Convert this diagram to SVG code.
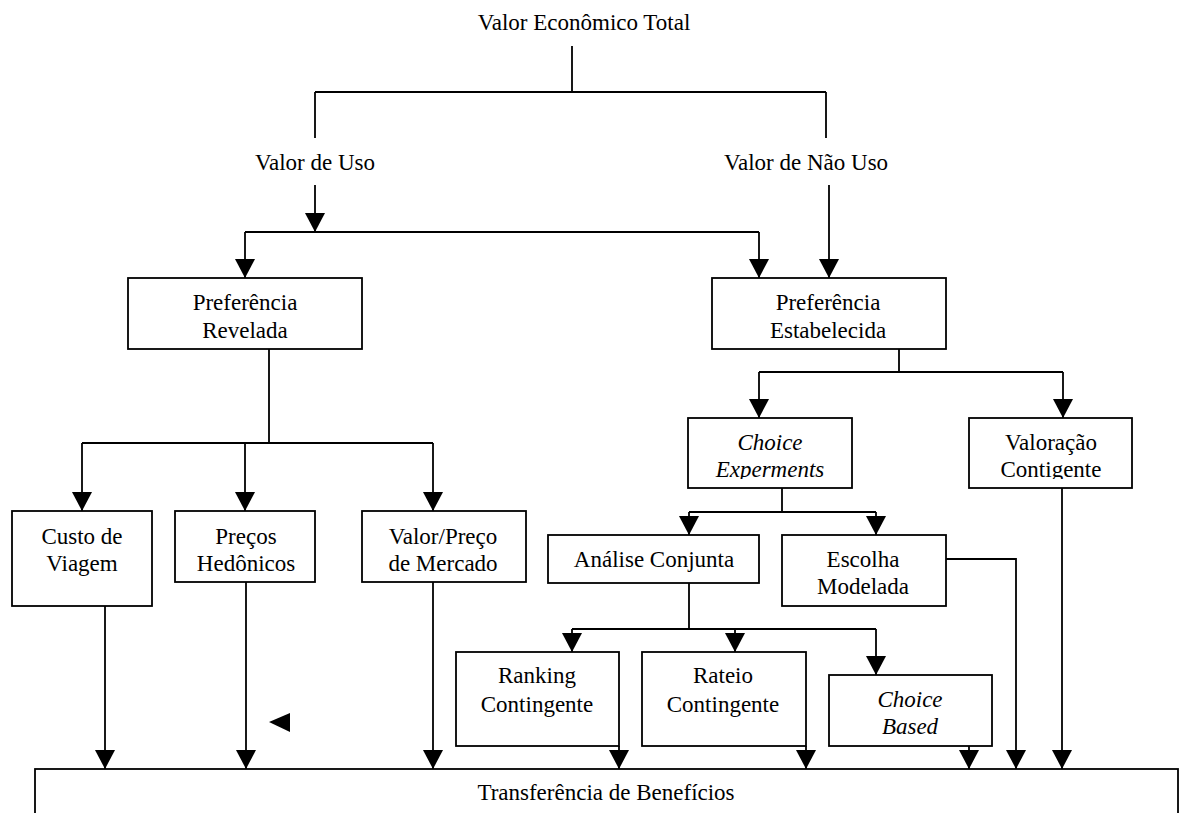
<svg xmlns="http://www.w3.org/2000/svg" width="1179" height="813" viewBox="0 0 1179 813">
<style>
text{font-family:"Liberation Serif","Times New Roman",serif;font-size:23px;fill:#000;text-anchor:middle}
.it{font-style:italic}
.box{fill:#fff;stroke:#000;stroke-width:1.8}
.ln{fill:none;stroke:#000;stroke-width:1.8}
</style>
<defs>
<marker id="ah" viewBox="0 -10 19 20" refX="19" refY="0" markerWidth="19" markerHeight="20" markerUnits="userSpaceOnUse" orient="auto">
<path d="M0,-10 L19,0 L0,10 z" fill="#000"/>
</marker>
<clipPath id="clipCE"><rect x="688" y="418" width="164" height="61"/></clipPath>
<clipPath id="clipVC"><rect x="969" y="418" width="163" height="61"/></clipPath>
</defs>

<g id="connectors">
<path class="ln" d="M572,46 V92 M315,92 H826 M315,92 V138 M826,92 V138"/>
<path class="ln" d="M315,185 V232" marker-end="url(#ah)"/>
<path class="ln" d="M245,232 H759"/>
<path class="ln" d="M245,232 V278" marker-end="url(#ah)"/>
<path class="ln" d="M759,232 V278" marker-end="url(#ah)"/>
<path class="ln" d="M829,185 V278" marker-end="url(#ah)"/>
<path class="ln" d="M269,349 V443 M82,443 H433"/>
<path class="ln" d="M82,443 V511" marker-end="url(#ah)"/>
<path class="ln" d="M245,443 V511" marker-end="url(#ah)"/>
<path class="ln" d="M433,443 V511" marker-end="url(#ah)"/>
<path class="ln" d="M899,349 V372 M759,372 H1063"/>
<path class="ln" d="M759,372 V418" marker-end="url(#ah)"/>
<path class="ln" d="M1063,372 V418" marker-end="url(#ah)"/>
<path class="ln" d="M782,488 V512 M689,512 H876"/>
<path class="ln" d="M689,512 V535" marker-end="url(#ah)"/>
<path class="ln" d="M876,512 V535" marker-end="url(#ah)"/>
<path class="ln" d="M689,583 V629 M572,629 H876"/>
<path class="ln" d="M572,629 V652" marker-end="url(#ah)"/>
<path class="ln" d="M735,629 V652" marker-end="url(#ah)"/>
<path class="ln" d="M876,629 V675" marker-end="url(#ah)"/>
<path class="ln" d="M105,606 V769" marker-end="url(#ah)"/>
<path class="ln" d="M246,582 V769" marker-end="url(#ah)"/>
<path class="ln" d="M433,582 V769" marker-end="url(#ah)"/>
<path class="ln" d="M619,746 V769" marker-end="url(#ah)"/>
<path class="ln" d="M806,746 V769" marker-end="url(#ah)"/>
<path class="ln" d="M969,746 V769" marker-end="url(#ah)"/>
<path class="ln" d="M946,559 H1016 V769" marker-end="url(#ah)"/>
<path class="ln" d="M1062,488 V769" marker-end="url(#ah)"/>
<path d="M269,722 L290,713 L290,732 z" fill="#000"/>
</g>

<g id="valor-economico-total"><text x="584" y="30">Valor Econômico Total</text></g>
<g id="valor-de-uso"><text x="315" y="170">Valor de Uso</text></g>
<g id="valor-de-nao-uso"><text x="806" y="170">Valor de Não Uso</text></g>

<g id="preferencia-revelada">
<rect class="box" x="128" y="278" width="234" height="71"/>
<text x="245" y="310">Preferência</text>
<text x="245" y="338">Revelada</text>
</g>
<g id="preferencia-estabelecida">
<rect class="box" x="712" y="278" width="234" height="71"/>
<text x="828" y="310">Preferência</text>
<text x="828" y="338">Estabelecida</text>
</g>
<g id="custo-de-viagem">
<rect class="box" x="12" y="511" width="140" height="95"/>
<text x="82" y="544">Custo de</text>
<text x="82" y="571">Viagem</text>
</g>
<g id="precos-hedonicos">
<rect class="box" x="175" y="511" width="140" height="71"/>
<text x="246" y="544">Preços</text>
<text x="246" y="571">Hedônicos</text>
</g>
<g id="valor-preco-mercado">
<rect class="box" x="362" y="511" width="164" height="71"/>
<text x="443" y="544">Valor/Preço</text>
<text x="443" y="571">de Mercado</text>
</g>
<g id="choice-experiments">
<rect class="box" x="688" y="418" width="164" height="70"/>
<g clip-path="url(#clipCE)">
<text class="it" x="770" y="450">Choice</text>
<text class="it" x="770" y="477">Experments</text>
</g>
</g>
<g id="valoracao-contigente">
<rect class="box" x="969" y="418" width="163" height="70"/>
<g clip-path="url(#clipVC)">
<text x="1051" y="450">Valoração</text>
<text x="1051" y="477">Contigente</text>
</g>
</g>
<g id="analise-conjunta">
<rect class="box" x="548" y="535" width="211" height="48"/>
<text x="654" y="567">Análise Conjunta</text>
</g>
<g id="escolha-modelada">
<rect class="box" x="782" y="535" width="164" height="71"/>
<text x="863" y="567">Escolha</text>
<text x="863" y="594">Modelada</text>
</g>
<g id="ranking-contingente">
<rect class="box" x="456" y="652" width="163" height="94"/>
<text x="537" y="683">Ranking</text>
<text x="537" y="712">Contingente</text>
</g>
<g id="rateio-contingente">
<rect class="box" x="642" y="652" width="164" height="94"/>
<text x="723" y="683">Rateio</text>
<text x="723" y="712">Contingente</text>
</g>
<g id="choice-based">
<rect class="box" x="829" y="675" width="163" height="71"/>
<text class="it" x="910" y="707">Choice</text>
<text class="it" x="910" y="734">Based</text>
</g>
<g id="transferencia-beneficios">
<rect class="box" x="35" y="769" width="1143" height="70"/>
<text x="606" y="800">Transferência de Benefícios</text>
</g>
</svg>
